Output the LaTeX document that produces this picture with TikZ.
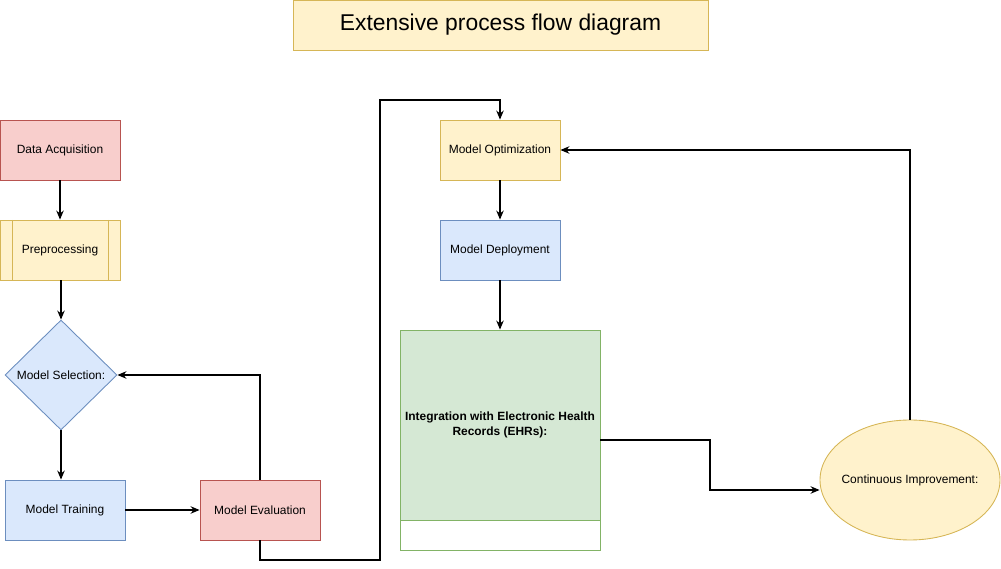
\documentclass[tikz,border=0pt]{standalone}
\usepackage{fontspec}
\setmainfont{Liberation Sans}
\usetikzlibrary{shapes.geometric,arrows.meta}

\definecolor{redfill}{HTML}{F8CECC}
\definecolor{redline}{HTML}{B85450}
\definecolor{yellowfill}{HTML}{FFF2CC}
\definecolor{yellowline}{HTML}{D6B656}
\definecolor{bluefill}{HTML}{DAE8FC}
\definecolor{blueline}{HTML}{6C8EBF}
\definecolor{greenfill}{HTML}{D5E8D4}
\definecolor{greenline}{HTML}{82B366}

\begin{document}
\begin{tikzpicture}[
		box/.style={draw, rectangle, line width=0.5pt, minimum width=2.4cm, minimum height=1.2cm, font=\fontsize{6.8}{8.2}\selectfont},
		flow/.style={-{Stealth[length=0.18cm,width=0.15cm]}, line width=0.6pt}
	]
	\useasboundingbox (0,0) rectangle (20.02,-11.38);

	% Title
	\node[draw=yellowline, fill=yellowfill, rectangle, line width=0.5pt, minimum width=8.3cm, minimum height=1cm, font=\fontsize{13}{15}\selectfont] (title) at (10.01,-0.5) {Extensive process flow diagram};

	% Data acquisition
	\node[box, draw=redline, fill=redfill] (acq) at (1.2,-3) {Data Acquisition};

	% Preprocessing
	\node[box, draw=yellowline, fill=yellowfill, path picture={
			\draw[yellowline, line width=0.5pt] ([xshift=0.24cm]path picture bounding box.north west) -- ([xshift=0.24cm]path picture bounding box.south west);
			\draw[yellowline, line width=0.5pt] ([xshift=-0.24cm]path picture bounding box.north east) -- ([xshift=-0.24cm]path picture bounding box.south east);
		}] (prep) at (1.2,-5) {Preprocessing};
	\draw[flow] (acq) -- (prep);

	% Model selection
	\node[draw=blueline, fill=bluefill, diamond, aspect=1, inner sep=0pt, line width=0.5pt, minimum width=2.24cm, minimum height=2.2cm, font=\fontsize{6.8}{8.2}\selectfont] (sel) at (1.22,-7.5) {Model Selection:};
	\draw[flow] (prep.south -| sel.north) -- (sel.north);

	% Model training
	\node[box, draw=blueline, fill=bluefill] (train) at (1.3,-10.2) {Model Training};
	\draw[flow] (sel.south) -- (sel.south |- train.north);

	% Model evaluation
	\node[box, draw=redline, fill=redfill] (eval) at (5.2,-10.2) {Model Evaluation};
	\draw[flow] (train) -- (eval);
	\draw[flow] (eval.north) |- (sel.east);

	% Model optimization
	\node[box, draw=yellowline, fill=yellowfill] (opt) at (10,-3) {Model Optimization};
	\coordinate (lowbend) at (7.6,-11.2);
	\coordinate (highbend) at (7.6,-2);
	\draw[flow] (eval.south) |- (lowbend) -- (highbend) -| (opt.north);

	% Model deployment
	\node[box, draw=blueline, fill=bluefill] (dep) at (10,-5) {Model Deployment};
	\draw[flow] (opt) -- (dep);

	% Integration with EHRs
	\node[draw=greenline, fill=greenfill, rectangle, line width=0.5pt, minimum width=4cm, minimum height=4.4cm, path picture={
			\fill[white] (path picture bounding box.south west) rectangle ([yshift=0.6cm]path picture bounding box.south east);
			\draw[greenline, line width=0.5pt] ([yshift=0.6cm]path picture bounding box.south west) -- ([yshift=0.6cm]path picture bounding box.south east);
		}] (ehr) at (10,-8.8) {};
	\node[align=center, font=\fontsize{6.8}{8.6}\selectfont\bfseries] (ehrlabel) at (10,-8.5) {Integration with Electronic Health\\Records (EHRs):};
	\draw[flow] (dep) -- (ehr);

	% Continuous improvement
	\node[draw=yellowline, fill=yellowfill, ellipse, line width=0.5pt, minimum width=3.6cm, minimum height=2.4cm, inner sep=0pt] (ci) at (18.2,-9.6) {};
	\node[font=\fontsize{6.8}{8.2}\selectfont] (cilabel) at (ci.center) {Continuous Improvement:};
	\coordinate (ehrbend) at (14.2,-8.8);
	\draw[flow] (ehr.east) -- (ehrbend) |- ([yshift=-0.2cm]ci.west);
	\draw[flow] (ci.north) |- (opt.east);
\end{tikzpicture}
\end{document}
